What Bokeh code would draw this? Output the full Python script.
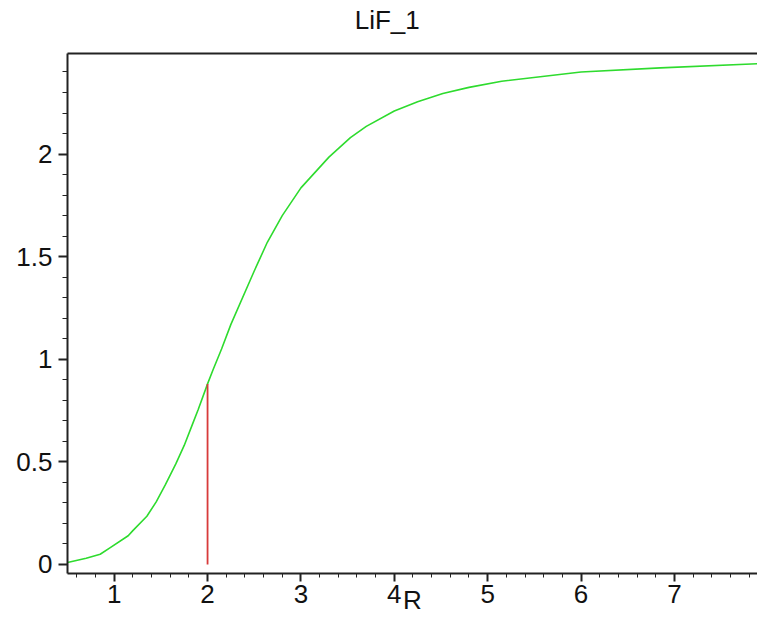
from bokeh.plotting import figure
from bokeh.models import (LinearAxis, SingleIntervalTicker, FixedTicker, PrintfTickFormatter,
                          Range1d, ColumnDataSource)
from bokeh.embed import file_html
from bokeh.resources import INLINE

# ---- data ----
r_vals = [0.5, 0.7, 0.85, 0.95, 1.15, 1.2, 1.35, 1.45, 1.55, 1.66, 1.75, 1.84, 1.9, 2.0,
          2.06, 2.15, 2.25, 2.5, 2.64, 2.8, 3.0, 3.3, 3.53, 3.7, 4.0, 4.25, 4.52, 4.8,
          5.15, 6.0, 6.85, 7.9]
v_vals = [0.01, 0.03, 0.05, 0.08, 0.14, 0.165, 0.235, 0.305, 0.39, 0.49, 0.58, 0.685, 0.755, 0.88,
          0.95, 1.05, 1.17, 1.43, 1.57, 1.70, 1.835, 1.985, 2.08, 2.135, 2.21, 2.255, 2.295, 2.325,
          2.355, 2.40, 2.42, 2.44]
marker_r = [2.0]
marker_v = [0.88]
title_text = "LiF_1"
x_label = "R"

FONT = "Liberation Sans"
FS = "26px"
AX = "#222222"
TXT = "#111111"

p = figure(width=757, height=621, output_backend="svg", toolbar_location=None,
           x_range=Range1d(0.5, 7.89), y_range=Range1d(-0.044, 2.49),
           x_axis_location=None, y_axis_location=None,
           min_border_left=67, min_border_right=0, min_border_top=53, min_border_bottom=48)
p.outline_line_color = None
p.xgrid.visible = False
p.ygrid.visible = False
p.background_fill_color = "white"
p.border_fill_color = "white"

# bottom axis
xa = LinearAxis(ticker=SingleIntervalTicker(interval=1, num_minor_ticks=5))
xa.axis_line_width = 2
xa.axis_line_color = AX
xa.major_tick_out = 8
xa.major_tick_in = 0
xa.minor_tick_out = 4
xa.minor_tick_in = 0
xa.major_tick_line_color = AX
xa.minor_tick_line_color = AX
xa.major_tick_line_width = 2
xa.major_label_standoff = 3
xa.major_label_text_font = FONT
xa.major_label_text_font_size = FS
xa.major_label_text_color = TXT
xa.axis_label = x_label
xa.axis_label_standoff = -21
xa.axis_label_text_font = FONT
xa.axis_label_text_font_size = FS
xa.axis_label_text_font_style = "normal"
xa.axis_label_text_color = TXT
p.add_layout(xa, "below")

# left axis
ya = LinearAxis(ticker=SingleIntervalTicker(interval=0.5, num_minor_ticks=5),
                formatter=PrintfTickFormatter(format="%g"))
ya.axis_line_width = 2
ya.axis_line_color = AX
ya.major_tick_out = 9
ya.major_tick_in = 0
ya.minor_tick_out = 5
ya.minor_tick_in = 0
ya.major_tick_line_color = AX
ya.minor_tick_line_color = AX
ya.major_tick_line_width = 2
ya.major_label_standoff = 6
ya.major_label_text_font = FONT
ya.major_label_text_font_size = FS
ya.major_label_text_color = TXT
p.add_layout(ya, "left")

# top border line; its axis label carries the title (padded with no-break spaces
# so that it sits left of the frame centre, as in the reference)
ta = LinearAxis(ticker=FixedTicker(ticks=[]))
ta.axis_line_width = 2
ta.axis_line_color = AX
ta.major_tick_out = 0
ta.major_tick_in = 0
ta.minor_tick_out = 0
ta.minor_tick_in = 0
ta.major_tick_line_color = None
ta.minor_tick_line_color = None
ta.major_label_text_font_size = "0px"
ta.axis_label = title_text + "\u00a0" * 7
ta.axis_label_standoff = 19
ta.axis_label_text_font = FONT
ta.axis_label_text_font_size = FS
ta.axis_label_text_font_style = "normal"
ta.axis_label_text_color = TXT
p.add_layout(ta, "above")

# curve and marker
src = ColumnDataSource(dict(r=r_vals, v=v_vals))
p.line("r", "v", source=src, line_color="#2edb2e", line_width=1.6, line_join="round")
p.segment(x0=marker_r, y0=[0] * len(marker_r), x1=marker_r, y1=marker_v,
          line_color="#d83a3a", line_width=1.8)

open("out.html", "w").write(file_html(p, INLINE))
